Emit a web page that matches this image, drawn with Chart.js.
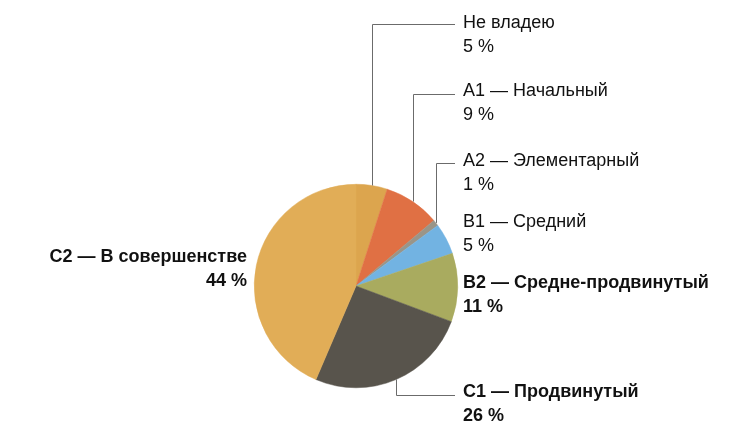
<!DOCTYPE html>
<html>
<head>
<meta charset="utf-8">
<script src="https://cdn.jsdelivr.net/npm/chart.js@4"></script>
<style>
  html, body { margin: 0; padding: 0; background: #fff; }
  #wrap { width: 750px; height: 423px; }
</style>
</head>
<body>
<div id="wrap"><canvas id="pie"></canvas></div>
<script>
// данные диаграммы
const levels = ['Не владею', 'A1 — Начальный', 'A2 — Элементарный', 'B1 — Средний', 'B2 — Средне-продвинутый', 'C1 — Продвинутый', 'C2 — В совершенстве'];
const shares = [5, 9, 1, 5, 11, 26, 44];
const sliceColors = ['#DCA54E', '#E07044', '#9A9588', '#72B3E2', '#A9AB5F', '#58544C', '#E1AD57'];
const boldLabels = [false, false, false, false, true, true, true];

// где стоят подписи (x текста, y первой строки, выравнивание, линия-выноска)
const labelLayout = [
  { x: 463, y: 14, align: 'left', leader: { y: 24, endX: 455 } },
  { x: 463, y: 82, align: 'left', leader: { y: 94, endX: 455 } },
  { x: 463, y: 152, align: 'left', leader: { y: 163, endX: 455 } },
  { x: 463, y: 213, align: 'left' },
  { x: 463, y: 274, align: 'left' },
  { x: 463, y: 383, align: 'left', leader: { y: 395, endX: 455, down: true } },
  { x: 247, y: 248, align: 'right' }
];

const labelPlugin = {
  id: 'labels',
  afterDraw(chart) {
    const ctx = chart.ctx;
    const arcs = chart.getDatasetMeta(0).data;
    ctx.save();
    arcs.forEach((arc, i) => {
      const lay = labelLayout[i];
      const p = arc.getProps(['x', 'y', 'startAngle', 'endAngle', 'outerRadius'], true);
      if (lay.leader) {
        const mid = (p.startAngle + p.endAngle) / 2;
        const sx = p.x + Math.cos(mid) * p.outerRadius;
        const sy = p.y + Math.sin(mid) * p.outerRadius;
        ctx.strokeStyle = '#6b6b6b';
        ctx.lineWidth = 1;
        ctx.beginPath();
        ctx.moveTo(Math.round(sx) + 0.5, sy);
        ctx.lineTo(Math.round(sx) + 0.5, lay.leader.y + 0.5);
        ctx.lineTo(lay.leader.endX, lay.leader.y + 0.5);
        ctx.stroke();
      }
      ctx.fillStyle = '#111';
      ctx.textAlign = lay.align;
      ctx.textBaseline = 'top';
      ctx.font = (boldLabels[i] ? 'bold ' : '') + '18px "Liberation Sans", Arial, sans-serif';
      ctx.fillText(levels[i], lay.x, lay.y);
      ctx.fillText(shares[i] + ' %', lay.x, lay.y + 24);
    });
    ctx.restore();
  }
};

new Chart(document.getElementById('pie'), {
  type: 'pie',
  data: {
    labels: levels,
    datasets: [{
      data: shares,
      backgroundColor: sliceColors,
      borderColor: sliceColors,
      borderWidth: 0.5
    }]
  },
  options: {
    responsive: true,
    maintainAspectRatio: false,
    animation: false,
    layout: { padding: { left: 254, right: 292, top: 184, bottom: 35 } },
    plugins: {
      legend: { display: false },
      tooltip: { enabled: false }
    }
  },
  plugins: [labelPlugin]
});
</script>
</body>
</html>
